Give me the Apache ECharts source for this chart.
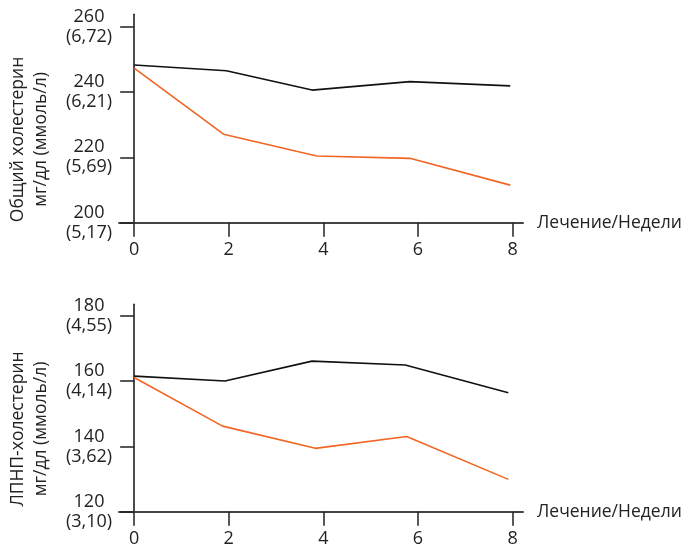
<!DOCTYPE html>
<html>
<head>
<meta charset="utf-8">
<script src="https://cdn.jsdelivr.net/npm/echarts@6/dist/echarts.min.js"></script>
<style>html,body{margin:0;padding:0;background:#fff}#c{width:685px;height:546px}</style>
</head>
<body>
<div id="c"></div>
<script>
// Top chart: total cholesterol
const topBlackX = [0, 1.95, 3.76, 5.83, 7.95];
const topBlackY = [248.3, 246.5, 240.6, 243.2, 241.9];
const topOrangeX = [0, 1.89, 3.86, 5.83, 7.95];
const topOrangeY = [247.3, 227.1, 220.4, 219.7, 211.5];
// Bottom chart: LDL cholesterol
const botBlackX = [0, 1.92, 3.76, 5.73, 7.91];
const botBlackY = [161.5, 160.0, 166.1, 164.9, 156.4];
const botOrangeX = [0, 1.87, 3.83, 5.76, 7.91];
const botOrangeY = [161.1, 146.2, 139.4, 143.0, 129.9];

const xTicks = [0, 2, 4, 6, 8];
const topYTicks = [200, 220, 240, 260];
const topYLabels = ['200\n(5,17)', '220\n(5,69)', '240\n(6,21)', '260\n(6,72)'];
const botYTicks = [120, 140, 160, 180];
const botYLabels = ['120\n(3,10)', '140\n(3,62)', '160\n(4,14)', '180\n(4,55)'];
const xName = 'Лечение/Недели';
const topYName = 'Общий холестерин\nмг/дл (ммоль/л)';
const botYName = 'ЛПНП-холестерин\nмг/дл (ммоль/л)';

const FONT = 'Open Sans';
const TXT = '#222';
const BLACK = '#111';
const ORANGE = '#f26522';

function zip(xs, ys) { return xs.map((x, i) => [x, ys[i]]); }

function xAxisCfg(gi) {
  return {
    type: 'value', gridIndex: gi, min: -0.32, max: 8.22,
    name: xName, nameLocation: 'end', nameGap: 14,
    nameTextStyle: { fontFamily: FONT, fontSize: 17.5, color: TXT },
    axisLine: { show: true, onZero: false, lineStyle: { color: '#444', width: 2 } },
    axisTick: { show: true, customValues: xTicks, length: 14, lineStyle: { color: '#222', width: 1.5 } },
    axisLabel: { customValues: xTicks, margin: 18, fontFamily: FONT, fontSize: 18, color: TXT },
    splitLine: { show: false }
  };
}
function yAxisCfg(gi, min, max, ticks, labels, name) {
  return {
    type: 'value', gridIndex: gi, min: min, max: max,
    name: name, nameLocation: 'middle', nameRotate: 90, nameGap: 66,
    nameTextStyle: { fontFamily: FONT, fontSize: 17.5, color: TXT, lineHeight: 23, padding: [0, 42, 0, 0] },
    axisLine: { show: true, onZero: true, lineStyle: { color: '#111', width: 1.5 } },
    axisTick: { show: true, customValues: ticks, length: 14, lineStyle: { color: '#222', width: 1.5 } },
    axisLabel: {
      customValues: ticks, margin: 30, align: 'center', fontFamily: FONT, fontSize: 18,
      lineHeight: 20, color: TXT, padding: [6, 0, 0, 0],
      formatter: v => labels[ticks.indexOf(v)] || ''
    },
    splitLine: { show: false }
  };
}
function lineSeries(xi, data, color) {
  return {
    type: 'line', xAxisIndex: xi, yAxisIndex: xi, data: data, showSymbol: false,
    lineStyle: { color: color, width: 1.6 }, itemStyle: { color: color }, silent: true
  };
}

const chart = echarts.init(document.getElementById('c'), null, { renderer: 'canvas' });
chart.setOption({
  animation: false,
  backgroundColor: '#fff',
  grid: [
    { left: 119, right: 162, top: 14.3, height: 208.4, containLabel: false, outerBoundsMode: 'none' },
    { left: 119, right: 162, top: 304.3, height: 207.4, containLabel: false, outerBoundsMode: 'none' }
  ],
  xAxis: [xAxisCfg(0), xAxisCfg(1)],
  yAxis: [
    yAxisCfg(0, 200, 263.8, topYTicks, topYLabels, topYName),
    yAxisCfg(1, 120, 183.5, botYTicks, botYLabels, botYName)
  ],
  series: [
    lineSeries(0, zip(topBlackX, topBlackY), BLACK),
    lineSeries(0, zip(topOrangeX, topOrangeY), ORANGE),
    lineSeries(1, zip(botBlackX, botBlackY), BLACK),
    lineSeries(1, zip(botOrangeX, botOrangeY), ORANGE)
  ]
});
</script>
</body>
</html>
